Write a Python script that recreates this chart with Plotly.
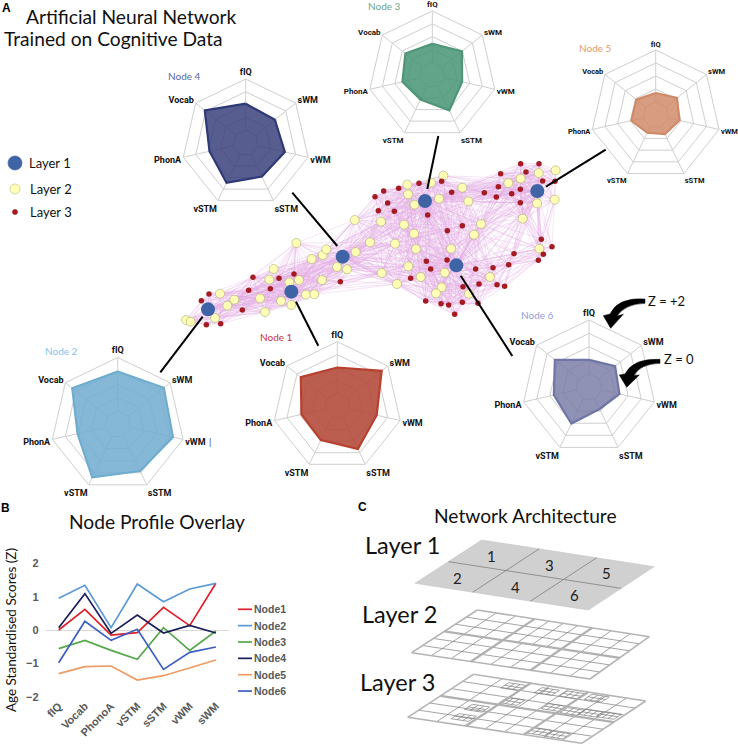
import math
import plotly.graph_objects as go

W, H = 738, 755

# ---------- data ----------
CATS = ["fIQ", "Vocab", "PhonoA", "vSTM", "sSTM", "vWM", "sWM"]
NODE1 = [0.00, 0.62, -0.15, -0.08, 0.68, 0.13, 1.40]
NODE2 = [0.95, 1.34, 0.07, 1.38, 0.85, 1.23, 1.40]
NODE3 = [-0.56, -0.31, -0.61, -0.88, 0.07, -0.61, -0.03]
NODE4 = [0.07, 1.09, -0.10, 0.45, -0.09, 0.14, -0.09]
NODE5 = [-1.31, -1.10, -1.08, -1.50, -1.37, -1.13, -0.90]
NODE6 = [-0.98, 0.26, -0.31, 0.02, -1.18, -0.67, -0.51]
NODE_NAMES = ["Node1", "Node2", "Node3", "Node4", "Node5", "Node6"]
NODE_VALUES = [NODE1, NODE2, NODE3, NODE4, NODE5, NODE6]
LINE_COLORS = ["#e0202a", "#5b9bd5", "#55a84a", "#1b1e5c", "#ed9b62", "#3b5fc0"]

RADAR_AXES = ["fIQ", "sWM", "vWM", "sSTM", "vSTM", "PhonA", "Vocab"]
RADAR_SOURCE = ["fIQ", "sWM", "vWM", "sSTM", "vSTM", "PhonoA", "Vocab"]

# network node positions, in network units
L1_X = [114, 364, 518, 765, 859, 1102]
L1_Y = [478, 425, 320, 153, 346, 123]
L2_X = [48, 62, 135, 150, 172, 193, 270, 285, 298, 311, 333, 358, 387, 364, 408, 433, 456, 425, 458, 469, 379,
        501, 531, 557, 600, 554, 633, 675, 702, 732, 738, 635, 681, 715, 752, 824, 843, 912, 933, 960, 712, 714,
        734, 783, 820, 807, 877, 895, 1015, 1052, 1106, 1157, 1101, 1154, 1058, 1108, 815, 798, 897]
L2_Y = [510, 515, 504, 431, 467, 449, 445, 486, 389, 357, 453, 397, 390, 465, 434, 433, 390, 327, 315, 298, 279,
        351, 358, 306, 277, 210, 215, 281, 224, 251, 297, 369, 402, 349, 381, 368, 296, 254, 222, 381, 104, 133,
        164, 98, 77, 146, 113, 154, 99, 86, 69, 61, 160, 149, 206, 296, 412, 430, 431]
L3_X = [94, 117, 109, 152, 217, 236, 249, 301, 327, 372, 511, 615, 641, 686, 747, 815, 653, 625, 673, 773, 845,
        832, 877, 943, 979, 985, 992, 1052, 1107, 1068, 1025, 1051, 1051, 1118, 1155, 1114, 1146, 1120, 1105,
        1032, 1016, 969, 917, 831, 769, 782, 722, 879, 927, 981, 1004, 767, 813, 836, 877, 854, 924]
L3_Y = [452, 432, 524, 521, 480, 421, 382, 416, 385, 372, 395, 140, 123, 115, 100, 94, 159, 182, 184, 195, 127,
        242, 227, 128, 141, 110, 71, 41, 41, 66, 131, 118, 158, 93, 94, 268, 290, 313, 331, 311, 344, 353, 357,
        330, 334, 357, 385, 410, 402, 404, 409, 453, 461, 465, 457, 493, 460]

FONT_T = "Lato, Carlito, sans-serif"
RADAR_FONT = "Roboto, sans-serif"
ARIAL = "'Liberation Sans', Arial, sans-serif"

fig = go.Figure()

AX = dict(visible=False, showgrid=False, zeroline=False, fixedrange=True, automargin=False)
PX = dict(xaxis="x", yaxis="y")


def px_text(x, y, text, size=14, color="#111", family=FONT_T, anchor="left", bold=False, angle=0):
    fig.add_annotation(x=x, y=y, xref="x", yref="y", text=f"<b>{text}</b>" if bold else text, showarrow=False,
                       xanchor=anchor, yanchor="middle", textangle=angle, borderpad=0, borderwidth=0,
                       font=dict(size=size, color=color, family=family))


# ---------- network edges: neighbourhood-derived ----------
xs = L1_X + L2_X + L3_X
ys = L1_Y + L2_Y + L3_Y
ex, ey = [], []
n1, n2 = len(L1_X), len(L2_X)
for i in range(len(xs)):
    for j in range(i + 1, len(xs)):
        d = math.hypot(xs[i] - xs[j], ys[i] - ys[j])
        reach = 170
        if i < n1:
            reach = 380
        elif i < n1 + n2 and j < n1 + n2:
            reach = 250
        if d < reach:
            ex += [xs[i], xs[j], None]
            ey += [ys[i], ys[j], None]
fig.add_trace(go.Scatter(x=ex, y=ey, mode="lines", xaxis="x3", yaxis="y3", showlegend=False, hoverinfo="skip",
                         line=dict(color="rgba(226,170,226,0.45)", width=0.7)))
fig.add_trace(go.Scatter(x=L2_X, y=L2_Y, mode="markers", xaxis="x3", yaxis="y3", name="Layer 2", showlegend=False,
                         marker=dict(size=9, color="#ffffb5", line=dict(color="#b4b482", width=0.7))))
fig.add_trace(go.Scatter(x=L3_X, y=L3_Y, mode="markers", xaxis="x3", yaxis="y3", name="Layer 3", showlegend=False,
                         marker=dict(size=5.5, color="#a51b22")))
fig.add_trace(go.Scatter(x=L1_X, y=L1_Y, mode="markers", xaxis="x3", yaxis="y3", name="Layer 1", showlegend=False,
                         marker=dict(size=14, color="#3f64a5")))

# ---------- callouts ----------
CALLOUTS = [((292.3, 192.7), (337.3, 246)), ((438.3, 136), (427.3, 189)), ((605.7, 149.7), (546, 186.7)),
            ((460.7, 275.7), (512.3, 356)), ((296, 301.7), (318.3, 345.7)), ((202.7, 316.7), (160.3, 372.3))]
for a, b in CALLOUTS:
    fig.add_shape(type="line", x0=a[0], y0=a[1], x1=b[0], y1=b[1], xref="x", yref="y",
                  line=dict(color="black", width=2))

# ---------- radar panels ----------
RADARS = [
    ("polar", NODE1, 337.3, 406.2, 64.5, "rgba(178,72,55,0.88)", "#b8402f", "Node 1", 260, 337, "#c8323a", 9),
    ("polar2", NODE2, 117.7, 424.5, 67.0, "rgba(110,172,207,0.85)", "#6fadcf", "Node 2", 45, 351, "#7fc4ee", 9),
    ("polar3", NODE3, 432.3, 75.0, 64.0, "rgba(70,148,118,0.85)", "#4f9577", "Node 3", 368, 6, "#6ba58c", 8),
    ("polar4", NODE4, 245.7, 143.0, 64.0, "rgba(50,58,118,0.82)", "#2e3a78", "Node 4", 168, 76, "#5566a6", 9),
    ("polar5", NODE5, 655.7, 115.0, 65.0, "rgba(208,135,100,0.82)", "#d08a68", "Node 5", 579, 48, "#e59a6a", 7.5),
    ("polar6", NODE6, 589.0, 387.0, 67.0, "rgba(118,122,165,0.82)", "#6f76a5", "Node 6", 521, 315, "#8fa0dc", 9),
]
GRID = "#cfcfcf"
layout_polars = {}
for sub, vals, cx, cy, R, fill, line, label, lx, ly, lc, tfs in RADARS:
    layout_polars[sub] = dict(
        domain=dict(x=[(cx - R) / W, (cx + R) / W], y=[1 - (cy + R) / H, 1 - (cy - R) / H]),
        bgcolor="rgba(0,0,0,0)", gridshape="linear",
        angularaxis=dict(direction="clockwise", rotation=90, categoryorder="array", categoryarray=RADAR_AXES,
                         showgrid=False, showline=True, linecolor=GRID, linewidth=1, ticks="",
                         tickfont=dict(family=RADAR_FONT, size=tfs, color="#111", weight="bold")),
        radialaxis=dict(range=[-3, 2], tickvals=[-2, -1, 0, 1, 2], showticklabels=False, ticks="", showline=False,
                        gridcolor=GRID, gridwidth=1, angle=90),
    )
    sp_t, sp_r = [], []
    for c in RADAR_AXES:
        sp_t += [c, c, None]
        sp_r += [-2, 2, None]
    fig.add_trace(go.Scatterpolar(theta=sp_t, r=sp_r, mode="lines", subplot=sub, showlegend=False, hoverinfo="skip",
                                  line=dict(color=GRID, width=1)))
    rv = [vals[CATS.index(k)] for k in RADAR_SOURCE]
    fig.add_trace(go.Scatterpolar(theta=RADAR_AXES + RADAR_AXES[:1], r=rv + rv[:1], mode="lines", subplot=sub,
                                  name=label, fill="toself", fillcolor=fill, showlegend=False,
                                  line=dict(color=line, width=2.2)))
    px_text(lx, ly, label, size=10, color=lc)

# ---------- line chart ----------
for name, vals, col in zip(NODE_NAMES, NODE_VALUES, LINE_COLORS):
    fig.add_trace(go.Scatter(x=CATS, y=vals, mode="lines", name=name, xaxis="x2", yaxis="y2", showlegend=False,
                             line=dict(color=col, width=1.7)))
for i, (name, col) in enumerate(zip(NODE_NAMES, LINE_COLORS)):
    yy = 609.3 + i * 16.35
    fig.add_shape(type="line", x0=238, x1=252, y0=yy, y1=yy, xref="x", yref="y", line=dict(color=col, width=1.7))
    px_text(253.5, yy, name, size=10.5, color="#595959", family=ARIAL, bold=True)

# ---------- layer legend (panel A) ----------
LEG_LAYERS = [("Layer 1", 15, 163, 14, "#3f64a5", 29), ("Layer 2", 15, 189, 10, "#ffffb5", 30),
              ("Layer 3", 15, 212, 5, "#a51b22", 30)]
for name, mx, my, ms, mc, tx in LEG_LAYERS:
    fig.add_trace(go.Scatter(x=[mx], y=[my], mode="markers", showlegend=False, hoverinfo="skip", **PX,
                             marker=dict(size=ms, color=mc,
                                         line=dict(color="#c0c090" if mc == "#ffffb5" else mc, width=0.7))))
    px_text(tx, my, name, size=13)

# ---------- panel C ----------
LAYER_CORNERS = {
    1: [(481.7, 540), (654, 566.7), (588.3, 610), (415, 583.3)],
    2: [(477.3, 610), (649.3, 636.7), (590, 679), (411.7, 652.7)],
    3: [(473.3, 674.3), (645.7, 701), (581.7, 743.3), (407.7, 717.3)],
}


def bil(c, u, v):
    a, b, r, d = c
    x = (1 - u) * (1 - v) * a[0] + u * (1 - v) * b[0] + u * v * r[0] + (1 - u) * v * d[0]
    y = (1 - u) * (1 - v) * a[1] + u * (1 - v) * b[1] + u * v * r[1] + (1 - u) * v * d[1]
    return x, y


def seg(c, store, u0, v0, u1, v1):
    p, q = bil(c, u0, v0), bil(c, u1, v1)
    store[0] += [p[0], q[0], None]
    store[1] += [p[1], q[1], None]


def add_lines(store, color, width):
    fig.add_trace(go.Scatter(x=store[0], y=store[1], mode="lines", showlegend=False, hoverinfo="skip", **PX,
                             line=dict(color=color, width=width)))


c1 = LAYER_CORNERS[1]
outline = [bil(c1, *uv) for uv in [(0, 0), (1, 0), (1, 1), (0, 1), (0, 0)]]
fig.add_trace(go.Scatter(x=[p[0] for p in outline], y=[p[1] for p in outline], mode="lines", fill="toself",
                         fillcolor="#d0d0d0", line=dict(color="#c4c4c4", width=0.6), showlegend=False,
                         hoverinfo="skip", **PX))
thin = [[], []]
seg(c1, thin, 0, 0.5, 1, 0.5)
seg(c1, thin, 1 / 3, 0, 1 / 3, 1)
seg(c1, thin, 2 / 3, 0, 2 / 3, 1)
add_lines(thin, "#808080", 0.8)
LAYER1_LABELS = ["1", "3", "5", "2", "4", "6"]
LAYER1_POS = [(491, 555.7), (549.3, 565), (606.7, 573.3), (457.3, 577.7), (515, 586.7), (574.7, 595)]
for t, (tx, ty) in zip(LAYER1_LABELS, LAYER1_POS):
    px_text(tx, ty, t, size=15, anchor="center", color="#222")

SUB_COLS = {2: [3, 4, 3, 3, 3, 3], 3: [2, 3, 3, 2, 3, 3]}
SUB_ROWS = {2: [3, 3, 3, 3, 3, 3], 3: [3, 3, 3, 3, 3, 3]}
FINE = [(0.276, 0.116), (0.468, 0.11), (0.61, 0.10), (0.75, 0.09), (0.376, 0.40), (0.614, 0.394), (0.73, 0.416),
        (0.827, 0.394), (0.93, 0.385), (0.26, 0.63), (0.264, 0.844), (0.72, 0.90), (0.83, 0.91)]
for lay in (2, 3):
    c = LAYER_CORNERS[lay]
    thick, thin = [[], []], [[], []]
    for k in range(6):
        col, row = k % 3, k // 3
        u0, v0 = col / 3, row / 2
        nc, nr = SUB_COLS[lay][k], SUB_ROWS[lay][k]
        for a in range(1, nc):
            seg(c, thin, u0 + a / nc / 3, v0, u0 + a / nc / 3, v0 + 0.5)
        for a in range(1, nr):
            seg(c, thin, u0, v0 + a / nr / 2, u0 + 1 / 3, v0 + a / nr / 2)
    if lay == 3:
        for fu, fv in FINE:
            du, dv = 0.05, 0.06
            for uu in (-du, -du / 3, du / 3, du):
                seg(c, thin, min(fu + uu, 1), fv - dv, min(fu + uu, 1), fv + dv)
            for vv in (-dv, 0, dv):
                seg(c, thin, fu - du, fv + vv, min(fu + du, 1), fv + vv)
    add_lines(thin, "#7d7d7d", 0.7)
    seg(c, thick, 0, 0, 1, 0)
    seg(c, thick, 1, 0, 1, 1)
    seg(c, thick, 1, 1, 0, 1)
    seg(c, thick, 0, 1, 0, 0)
    add_lines(thick, "#b4b4b4", 1.6)
    inner = [[], []]
    seg(c, inner, 1 / 3, 0, 1 / 3, 1)
    seg(c, inner, 2 / 3, 0, 2 / 3, 1)
    seg(c, inner, 0, 0.5, 1, 0.5)
    add_lines(inner, "#b0b0b0", 2.2)

# ---------- text ----------
px_text(26, 16, "Artificial Neural Network", size=19.2)
px_text(4, 38, "Trained on Cognitive Data", size=19.2)
px_text(2, 8, "A", size=12, bold=True, family=ARIAL, color="#000")
px_text(1, 508, "B", size=12, bold=True, family=ARIAL, color="#000")
px_text(358, 507, "C", size=12, bold=True, family=ARIAL, color="#000")
px_text(157, 521, "Node Profile Overlay", size=19.2, anchor="center")
px_text(525, 515, "Network Architecture", size=19.2, anchor="center")
px_text(365, 545, "Layer 1", size=23.5)
px_text(362, 614, "Layer 2", size=23.5)
px_text(360, 682, "Layer 3", size=23.5)
px_text(648, 301, "Z = +2", size=13)
px_text(664, 359, "Z = 0", size=13)
px_text(209, 441, "|", size=9, color="#333")

ARROWS = [
    "M645,299 Q618,297 610,314 L603.3,315.7 L610.7,328.3 L623.3,314.3 L617,316 Q625,304 645,303.3 Z",
    "M660,359.3 Q633,358 625,374 L619.3,375 L626.7,387.3 L639.3,375 L634,375.5 Q640,364 660,363.3 Z",
]
for p in ARROWS:
    fig.add_shape(type="path", path=p, xref="x", yref="y", fillcolor="black", line=dict(color="black", width=0.5))

fig.update_layout(
    width=W, height=H, margin=dict(l=0, r=0, t=0, b=0, autoexpand=False), autosize=False, showlegend=False,
    paper_bgcolor="white", plot_bgcolor="rgba(0,0,0,0)",
    xaxis=dict(domain=[0, 1], range=[0, W], **AX),
    yaxis=dict(domain=[0, 1], range=[H, 0], **AX),
    xaxis3=dict(domain=[170 / W, 570 / W], range=[0, 1200], anchor="y3", **AX),
    yaxis3=dict(domain=[1 - 340 / H, 1 - 150 / H], range=[570, 0], anchor="x3", **AX),
    xaxis2=dict(domain=[45.6 / W, 229 / W], anchor="y2", type="category", categoryorder="array", categoryarray=CATS,
                range=[-0.5, 6.5], showgrid=False, zeroline=False, showline=False, ticks="", tickangle=-45,
                automargin=False,
                tickfont=dict(family=ARIAL, size=11, color="#595959", weight="bold"), fixedrange=True),
    yaxis2=dict(domain=[1 - 696.7 / H, 1 - 563.3 / H], anchor="x2", range=[-2, 2], tickvals=[-2, -1, 0, 1, 2],
                showgrid=False, zeroline=True, zerolinecolor="#d9d9d9", zerolinewidth=1, showline=False, ticks="",
                ticklabelstandoff=6, automargin=False,
                tickfont=dict(family=ARIAL, size=11, color="#595959", weight="bold"), fixedrange=True,
                title=dict(text="Age Standardised Scores (Z)", standoff=6,
                           font=dict(family=FONT_T, size=13.5, color="#111"))),
    **layout_polars,
)
fig.write_html("out.html", post_script="document.body.style.margin='0';", config={"displayModeBar": False})
